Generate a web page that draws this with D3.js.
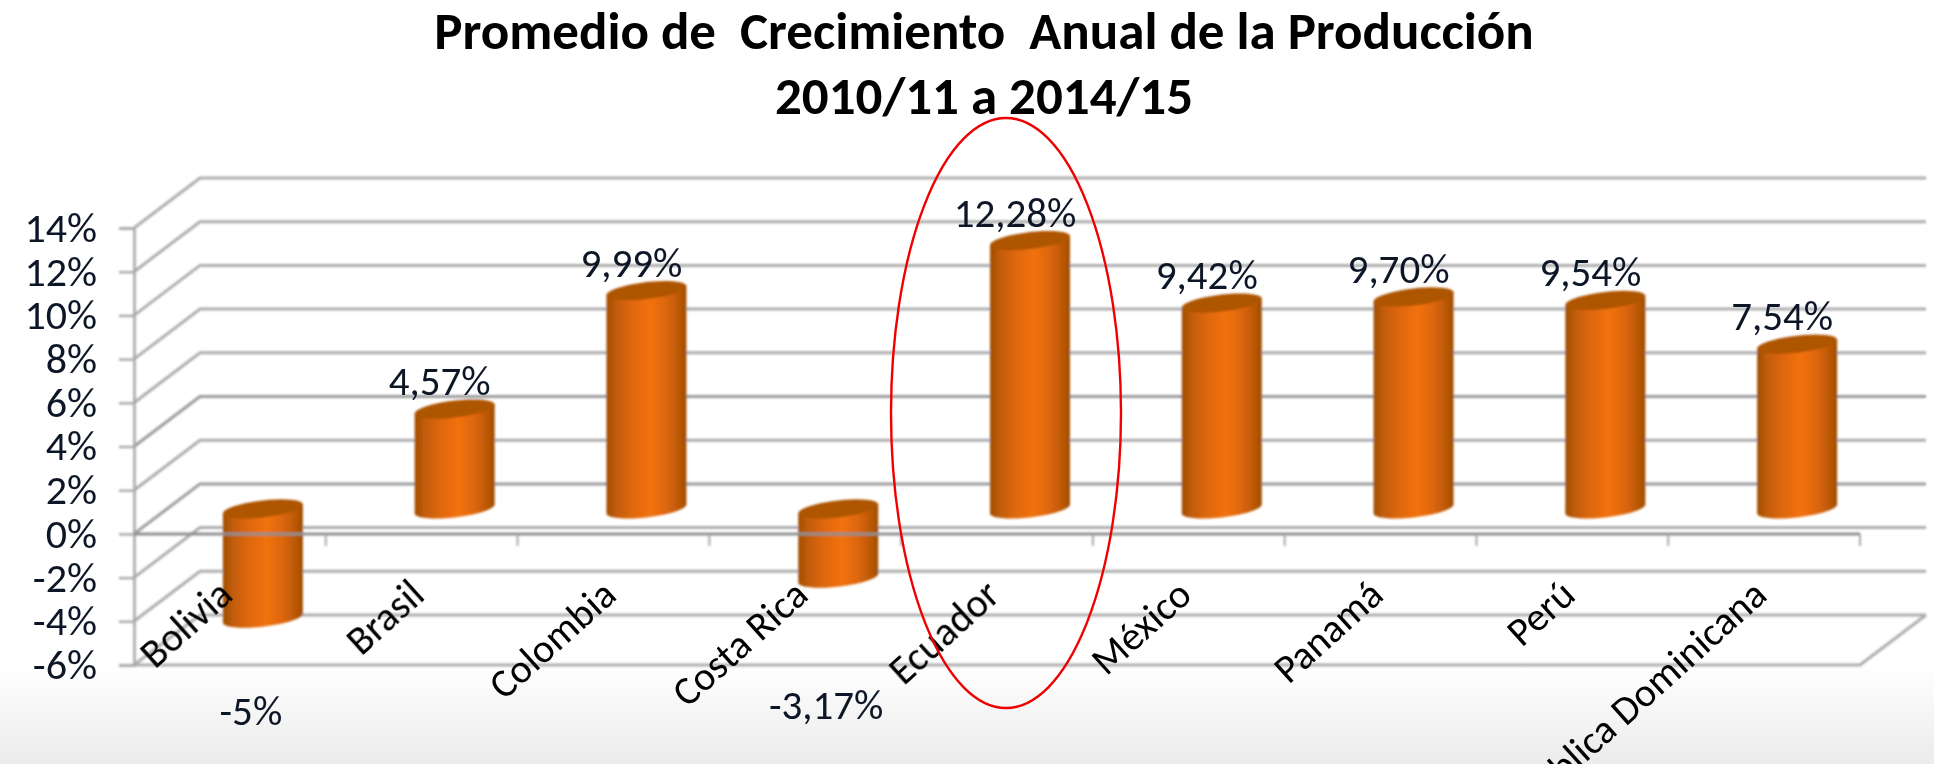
<!DOCTYPE html>
<html><head><meta charset="utf-8">
<script src="https://cdnjs.cloudflare.com/ajax/libs/d3/7.8.5/d3.min.js"></script>
<style>html,body{margin:0;padding:0;background:#fff;overflow:hidden}svg{display:block}</style>
</head><body><div id="c"></div>
<script>
const titleLines = ["Promedio de  Crecimiento  Anual de la Producción", "2010/11 a 2014/15"];
const categories = ["Bolivia","Brasil","Colombia","Costa Rica","Ecuador","México","Panamá","Perú","República Dominicana"];
const values = [-5, 4.57, 9.99, -3.17, 12.28, 9.42, 9.70, 9.54, 7.54];
const valueLabels = ["-5%","4,57%","9,99%","-3,17%","12,28%","9,42%","9,70%","9,54%","7,54%"];
const yTicks = [-6,-4,-2,0,2,4,6,8,10,12,14];
const highlighted = "Ecuador";

const W = 1934, H = 764;
const FONT = "Carlito, Lato, 'Noto Sans', sans-serif";
const TEXT = "#0c1526";
const depthX = 66, depthY = 50;
const y = d3.scaleLinear().domain([-6,14]).range([665,228]);
const x = d3.scaleBand().domain(categories).range([134,1860]);
const barRx = 40, barRy = 8.5, barTilt = 4.5;

const svg = d3.select("#c").append("svg").attr("width",W).attr("height",H)
  .attr("viewBox",[0,0,W,H]);
const defs = svg.append("defs");

const bg = defs.append("linearGradient").attr("id","bg").attr("x1",0).attr("x2",0).attr("y1",0).attr("y2",1);
bg.append("stop").attr("offset","0").attr("stop-color","#ffffff");
bg.append("stop").attr("offset","1").attr("stop-color","#ebebeb");
const cyl = defs.append("linearGradient").attr("id","cyl").attr("x1",0).attr("x2",1).attr("y1",0).attr("y2",0);
[[0,"#a04e06"],[0.12,"#c05c07"],[0.3,"#dd6608"],[0.55,"#f2720b"],[0.75,"#dc6608"],[0.92,"#b85706"],[1,"#9c4c05"]]
  .forEach(([o,c])=>cyl.append("stop").attr("offset",o).attr("stop-color",c));
defs.append("filter").attr("id","soft").attr("x","-2%").attr("y","-2%").attr("width","104%").attr("height","104%")
  .append("feGaussianBlur").attr("stdDeviation",0.8);
defs.append("filter").attr("id","softText").attr("x","-2%").attr("y","-2%").attr("width","104%").attr("height","104%")
  .append("feGaussianBlur").attr("stdDeviation",0.5);

svg.append("rect").attr("x",0).attr("y",665).attr("width",W).attr("height",H-665).attr("fill","url(#bg)");

const root = svg.append("g").attr("filter","url(#soft)");
const textLayer = svg.append("g").attr("filter","url(#softText)");

// Walls and floor
const grid = root.append("g").attr("fill","none").attr("stroke","#adadad").attr("stroke-width",3);
const x0 = x.range()[0], x1 = x.range()[1];
grid.selectAll("path.g").data(yTicks).join("path").attr("class","g")
  .attr("d", v => d3.line()([[x0,y(v)],[x0+depthX,y(v)-depthY],[x1+depthX,y(v)-depthY]]))
  .attr("stroke", v => v===4 || v===0 ? "#9c9c9c" : "#adadad");
grid.append("path").attr("d", d3.line()([[x0,y(-6)],[x1,y(-6)],[x1+depthX,y(-6)-depthY]]));

// Value axis
const yAxis = root.append("g").attr("transform",`translate(${x0},0)`)
  .call(d3.axisLeft(y).tickValues(yTicks).tickFormat("").tickSize(15));
yAxis.select(".domain").attr("stroke","#a8a8a8").attr("stroke-width",2.6);
yAxis.selectAll(".tick line").attr("stroke","#a8a8a8").attr("stroke-width",2.4);

const yLabels = textLayer.append("g").attr("transform",`translate(${x0},0)`)
  .call(d3.axisLeft(y).tickValues(yTicks).tickFormat(d=>d+"%").tickSize(0).tickPadding(37));
yLabels.select(".domain").remove();
yLabels.selectAll("text").attr("font-family",FONT).attr("font-size",42).attr("fill",TEXT);

// Cylinders
const outline = (cx, cy, from, to) => d3.range(0,41).map(i => {
  const t = from + (to-from)*i/40;
  return [cx + barRx*Math.cos(t), cy + barRy*Math.sin(t) - barTilt*Math.cos(t)];
});
const line = d3.line();
const bars = root.append("g").selectAll("g").data(categories).join("g");
bars.append("path").attr("fill","url(#cyl)").attr("d",(c,i)=>{
  const cx = x(c)+x.bandwidth()/2+depthX/2;
  const yA = y(Math.max(0,values[i]))-depthY/2;
  const yB = y(Math.min(0,values[i]))-depthY/2;
  return line([[cx-barRx,yA+barTilt],[cx+barRx,yA-barTilt],...outline(cx,yB,0,Math.PI)])+"Z";
});
bars.append("path").attr("fill","#ae5406").attr("d",(c,i)=>{
  const cx = x(c)+x.bandwidth()/2+depthX/2;
  const yA = y(Math.max(0,values[i]))-depthY/2;
  return line(outline(cx,yA,0,2*Math.PI))+"Z";
});

// Category axis at zero
const zero = root.append("g").attr("stroke","#8f8f8f").attr("fill","none");
zero.append("line").attr("x1",x0).attr("x2",x1).attr("y1",y(0)).attr("y2",y(0)).attr("stroke-width",3);
zero.selectAll("line.t").data(categories).join("line").attr("class","t")
  .attr("x1",c=>x(c)+x.bandwidth()).attr("x2",c=>x(c)+x.bandwidth())
  .attr("y1",y(0)).attr("y2",y(0)+12).attr("stroke","#a8a8a8").attr("stroke-width",2);

textLayer.append("g").selectAll("text").data(categories).join("text")
  .attr("text-anchor","end").attr("font-family",FONT).attr("font-size",40).attr("fill","#000")
  .attr("transform",c=>`translate(${x(c)+x.bandwidth()/2+5},${y(0)+64}) rotate(-42)`)
  .text(c=>c);

// Value labels: the two negative ones sit below the plot, where the source placed them
const negativeLabelY = {"Bolivia":725, "Costa Rica":719};
textLayer.append("g").selectAll("text").data(categories).join("text")
  .attr("text-anchor","middle").attr("font-family",FONT).attr("font-size",41).attr("fill",TEXT)
  .attr("x",(c,i)=>x(c)+x.bandwidth()/2+depthX/2-(values[i]<0?12:15))
  .attr("y",(c,i)=>values[i]<0 ? negativeLabelY[c] : y(values[i])-depthY/2-14)
  .text((c,i)=>valueLabels[i]);

// Title
textLayer.append("g").selectAll("text").data(titleLines).join("text")
  .attr("x",984).attr("y",(d,i)=>49+i*65)
  .attr("text-anchor","middle").attr("font-family",FONT).attr("font-weight",700)
  .attr("font-size",53).attr("fill","#000").style("white-space","pre")
  .text(d=>d);

// Highlight
svg.append("ellipse").attr("cx",x(highlighted)+x.bandwidth()/2+depthX/2-24).attr("cy",413)
  .attr("rx",115).attr("ry",295).attr("fill","none").attr("stroke","#f00000").attr("stroke-width",2.4);
</script></body></html>
